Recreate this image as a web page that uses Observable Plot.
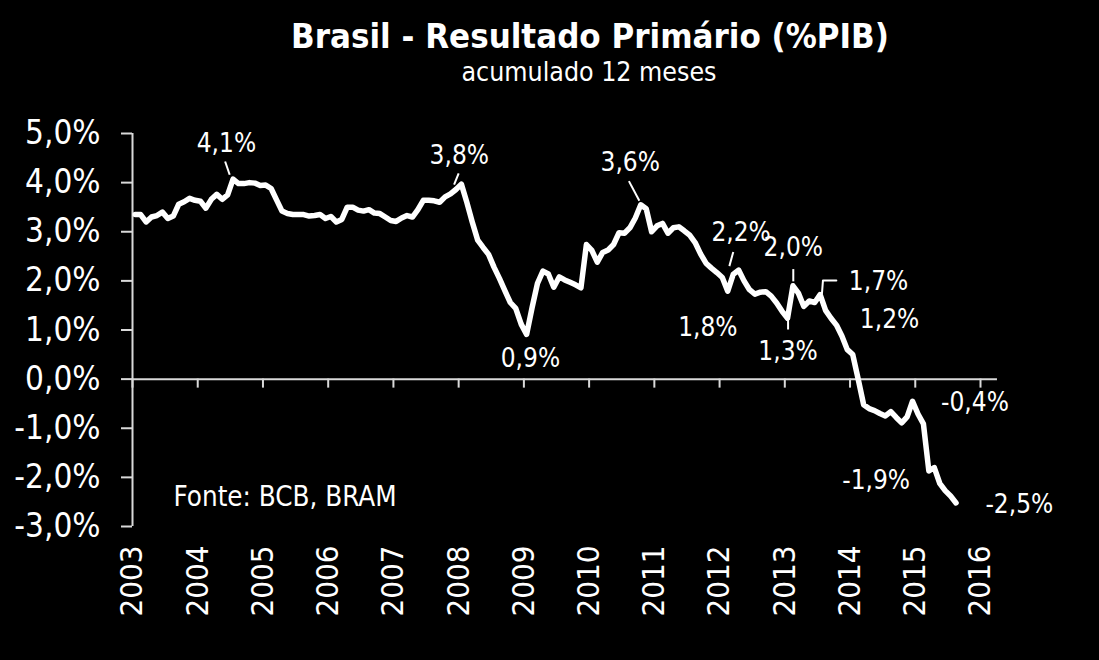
<!DOCTYPE html>
<html>
<head>
<meta charset="utf-8">
<script src="https://cdn.jsdelivr.net/npm/d3@7"></script>
<script src="https://cdn.jsdelivr.net/npm/@observablehq/plot@0.6"></script>
<style>
  html, body { margin: 0; padding: 0; background: #000; }
  body { width: 1099px; height: 660px; position: relative; overflow: hidden;
         font-family: "DejaVu Sans Condensed", "DejaVu Sans", sans-serif; color: #fff; }
  #title { position: absolute; left: 0; width: 1180px; top: 19px; text-align: center;
           font-weight: bold; font-size: 34.5px; line-height: 34.5px; white-space: nowrap; }
  #subtitle { position: absolute; left: 0; width: 1178px; top: 59px; text-align: center;
              font-size: 26.5px; line-height: 26.5px; white-space: nowrap; }
  #chart { position: absolute; left: 0; top: 100px; }
</style>
</head>
<body>
<div id="title">Brasil - Resultado Primário (%PIB)</div>
<div id="subtitle">acumulado 12 meses</div>
<div id="chart"></div>
<script>
// ---- Data (monthly, Jan 2003 – Aug 2015, % of GDP, 12-month accumulated) ----
const startYear = 2003;
const resultado = [
  // 2003
  3.35, 3.35, 3.20, 3.30, 3.33, 3.40, 3.27, 3.32, 3.56, 3.61, 3.68, 3.64,
  // 2004
  3.62, 3.48, 3.66, 3.76, 3.66, 3.75, 4.07, 3.98, 3.98, 4.00, 3.99, 3.94,
  // 2005
  3.95, 3.88, 3.65, 3.42, 3.37, 3.35, 3.35, 3.35, 3.32, 3.33, 3.35, 3.27,
  // 2006
  3.31, 3.20, 3.25, 3.50, 3.50, 3.44, 3.42, 3.45, 3.38, 3.37, 3.30, 3.23,
  // 2007
  3.21, 3.28, 3.33, 3.30, 3.45, 3.64, 3.64, 3.63, 3.60, 3.71, 3.77, 3.86,
  // 2008
  3.97, 3.60, 3.20, 2.83, 2.68, 2.54, 2.28, 2.05, 1.80, 1.56, 1.44, 1.12,
  // 2009
  0.91, 1.45, 1.95, 2.20, 2.14, 1.87, 2.08, 2.02, 1.97, 1.92, 1.86, 2.74,
  // 2010
  2.62, 2.38, 2.58, 2.63, 2.74, 2.98, 2.97, 3.08, 3.28, 3.55, 3.47, 3.00,
  // 2011
  3.12, 3.17, 2.97, 3.08, 3.10, 3.02, 2.93, 2.78, 2.55, 2.36, 2.26, 2.17,
  // 2012
  2.07, 1.79, 2.13, 2.22, 2.00, 1.82, 1.73, 1.77, 1.78, 1.69, 1.55, 1.38,
  // 2013
  1.24, 1.90, 1.75, 1.48, 1.59, 1.56, 1.72, 1.40, 1.24, 1.10, 0.88, 0.60,
  // 2014
  0.50, 0.00, -0.52, -0.60, -0.64, -0.70, -0.75, -0.66, -0.78, -0.89, -0.77, -0.45,
  // 2015
  -0.71, -0.91, -1.87, -1.80, -2.12, -2.27, -2.38, -2.52
];

const yTicks = [-3, -2, -1, 0, 1, 2, 3, 4, 5];
const yTickLabels = ["-3,0%", "-2,0%", "-1,0%", "0,0%", "1,0%", "2,0%", "3,0%", "4,0%", "5,0%"];
const years = [2003, 2004, 2005, 2006, 2007, 2008, 2009, 2010, 2011, 2012, 2013, 2014, 2015, 2016];
const xAxisEnd = 2016.26;

// annotation labels
const annText = ["4,1%", "3,8%", "0,9%", "3,6%", "1,8%", "2,2%", "2,0%", "1,3%", "1,7%", "1,2%", "-0,4%", "-1,9%", "-2,5%"];
const annX    = [2004.44, 2008.01, 2009.10, 2010.63, 2011.82, 2012.33, 2013.13, 2013.05, 2014.437, 2014.606, 2015.915, 2014.40, 2016.595];
const annY    = [4.79, 4.55, 0.41, 4.40, 1.04, 2.99, 2.67, 0.55, 1.99, 1.22, -0.47, -2.06, -2.55];

// leader lines
const leadX1 = [2004.42, 2008.00, 2010.61, 2012.21, 2013.13, 2013.05];
const leadY1 = [4.43, 4.19, 4.03, 2.59, 2.24, 1.24];
const leadX2 = [2004.49, 2007.93, 2010.77, 2012.15, 2013.13, 2013.05];
const leadY2 = [4.16, 3.96, 3.63, 2.30, 1.99, 1.01];
// elbow leader for 1,7%
const elbowX = [2013.57, 2013.585, 2013.79];
const elbowY = [1.75, 2.01, 2.01];

const fonteText = "Fonte: BCB, BRAM";
const fonteX = 2003.63;
const fonteY = -2.41;

// ---- Build tables ----
const series = resultado.map((v, i) => ({date: startYear + (i + 0.5) / 12, value: v}));
const annotations = annText.map((t, i) => ({text: t, x: annX[i], y: annY[i]}));
const leaders = leadX1.map((x, i) => ({x1: x, y1: leadY1[i], x2: leadX2[i], y2: leadY2[i]}));
const elbow = elbowX.map((x, i) => ({x, y: elbowY[i]}));

const axisColor = "#d9d9d9";
const fontFamily = '"DejaVu Sans Condensed", "DejaVu Sans", sans-serif';

const chart = Plot.plot({
  width: 1099,
  height: 560,
  marginTop: 33,
  marginBottom: 134,
  marginLeft: 132,
  marginRight: 119,
  x: {domain: [years[0], years[years.length - 1]], axis: null},
  y: {domain: [yTicks[0], yTicks[yTicks.length - 1]], axis: null},
  style: {background: "#000", color: "#fff", fontFamily, overflow: "visible"},
  marks: [
    Plot.axisY({
      anchor: "left",
      ticks: yTicks,
      tickFormat: d => yTickLabels[yTicks.indexOf(d)],
      tickSize: 11,
      tickPadding: 21,
      fontSize: 33,
      stroke: axisColor,
      strokeWidth: 2,
      fill: "#fff",
      label: null
    }),
    Plot.ruleX([years[0]], {y1: yTicks[0], y2: yTicks[yTicks.length - 1], stroke: axisColor, strokeWidth: 2}),
    Plot.ruleY([0], {x1: years[0], x2: xAxisEnd, stroke: axisColor, strokeWidth: 2}),
    Plot.ruleX(years, {x: d => d, y1: 0, y2: 0, insetBottom: -9, stroke: axisColor, strokeWidth: 2}),
    Plot.text(years, {
      x: d => d, y: yTicks[0], dy: 19, text: d => String(d),
      rotate: -90, textAnchor: "end", lineAnchor: "middle",
      fontSize: 31, fill: "#fff"
    }),
    Plot.line(series, {
      x: "date", y: "value", stroke: "#fff", strokeWidth: 5.5,
      strokeLinejoin: "round", strokeLinecap: "round"
    }),
    Plot.link(leaders, {x1: "x1", y1: "y1", x2: "x2", y2: "y2", stroke: "#fff", strokeWidth: 2}),
    Plot.line(elbow, {x: "x", y: "y", stroke: "#fff", strokeWidth: 2}),
    Plot.text(annotations, {x: "x", y: "y", text: "text", fontSize: 26, fill: "#fff"}),
    Plot.text([fonteText], {x: fonteX, y: fonteY, text: d => d, textAnchor: "start", fontSize: 27.5, fill: "#fff"})
  ]
});
document.getElementById("chart").appendChild(chart);
</script>
</body>
</html>
